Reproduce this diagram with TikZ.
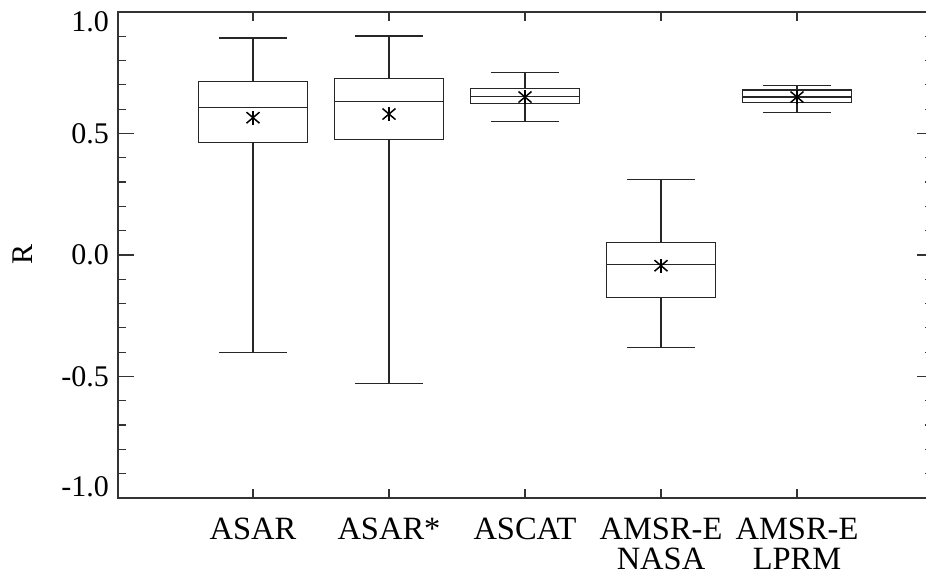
\documentclass[tikz,border=0pt]{standalone}
\usepackage{fontspec}
\setmainfont{Liberation Serif}
\tikzset{
  axisline/.style={line width=1.2pt, draw=black!80},
  boxline/.style={line width=1.1pt, draw=black!85},
  starline/.style={line width=1.5pt, draw=black},
  lbl/.style={font=\fontsize{30}{31}\selectfont, inner sep=0pt},
  catlbl/.style={font=\fontsize{32.5}{29.5}\selectfont, inner sep=0pt, align=center, anchor=north},
}
\newcommand\myboxplot[7]{%
  % #1 x, #2 lower cap, #3 q1, #4 median, #5 q3, #6 upper cap, #7 mean
  \draw[boxline] (#1-0.25,#2) -- (#1+0.25,#2);
  \draw[boxline] (#1,#2) -- (#1,#3);
  \draw[boxline] (#1-0.4,#3) rectangle (#1+0.4,#5);
  \draw[boxline] (#1-0.4,#4) -- (#1+0.4,#4);
  \draw[boxline] (#1,#5) -- (#1,#6);
  \draw[boxline] (#1-0.25,#6) -- (#1+0.25,#6);
  \draw[starline] (#1,#7) ++(0,-7pt) -- ++(0,14pt);
  \draw[starline] (#1,#7) ++(-6.5pt,-5.5pt) -- ++(13pt,11pt);
  \draw[starline] (#1,#7) ++(-6.5pt,5.5pt) -- ++(13pt,-11pt);
}
\begin{document}
\begin{tikzpicture}[x=1pt,y=1pt]
\useasboundingbox (0,0) rectangle (926,572);
\clip (0,0) rectangle (926,572);
\fill[white] (0,0) rectangle (926,572);

% frame
\draw[axisline] (118,74) rectangle (933,560);

% y ticks
\foreach \v in {-1,-0.5,0,0.5,1} {
  \draw[axisline] (118,{317+243*\v}) -- (134,{317+243*\v});
  \draw[axisline] (933,{317+243*\v}) -- (917,{317+243*\v});
}
\foreach \v in {-0.9,-0.8,-0.7,-0.6,-0.4,-0.3,-0.2,-0.1,0.1,0.2,0.3,0.4,0.6,0.7,0.8,0.9} {
  \draw[axisline] (118,{317+243*\v}) -- (126,{317+243*\v});
  \draw[axisline] (933,{317+243*\v}) -- (925,{317+243*\v});
}
% x ticks
\foreach \i in {1,...,5} {
  \draw[axisline] ({117+136*\i},74) -- ({117+136*\i},83);
  \draw[axisline] ({117+136*\i},560) -- ({117+136*\i},551);
}

% y tick labels
\node[lbl, anchor=east] (yl1) at (109,550) {1.0};
\node[lbl, anchor=east] (yl2) at (109,438.5) {0.5};
\node[lbl, anchor=east] (yl3) at (109,317) {0.0};
\node[lbl, anchor=east] (yl4) at (109,195.5) {-0.5};
\node[lbl, anchor=east] (yl5) at (109,85) {-1.0};
\node[lbl, rotate=90] (ylab) at (23,317) {R};

% x labels
\node[catlbl] (c1) at (253,54) {ASAR};
\node[catlbl] (c2) at (389,54) {ASAR*};
\node[catlbl] (c3) at (525,54) {ASCAT};
\node[catlbl] (c4) at (661,54) {AMSR-E\\NASA};
\node[catlbl] (c5) at (797,54) {AMSR-E\\LPRM};

% boxes
\begin{scope}[x=136pt, y=243pt, shift={(117pt,317pt)}]
  \myboxplot{1}{-0.403}{0.462}{0.608}{0.713}{0.893}{0.565}
  \myboxplot{2}{-0.527}{0.477}{0.631}{0.728}{0.901}{0.580}
  \myboxplot{3}{0.550}{0.623}{0.654}{0.684}{0.750}{0.650}
  \myboxplot{4}{-0.379}{-0.176}{-0.040}{0.050}{0.309}{-0.044}
  \myboxplot{5}{0.588}{0.627}{0.650}{0.679}{0.697}{0.650}
\end{scope}
\end{tikzpicture}
\end{document}
